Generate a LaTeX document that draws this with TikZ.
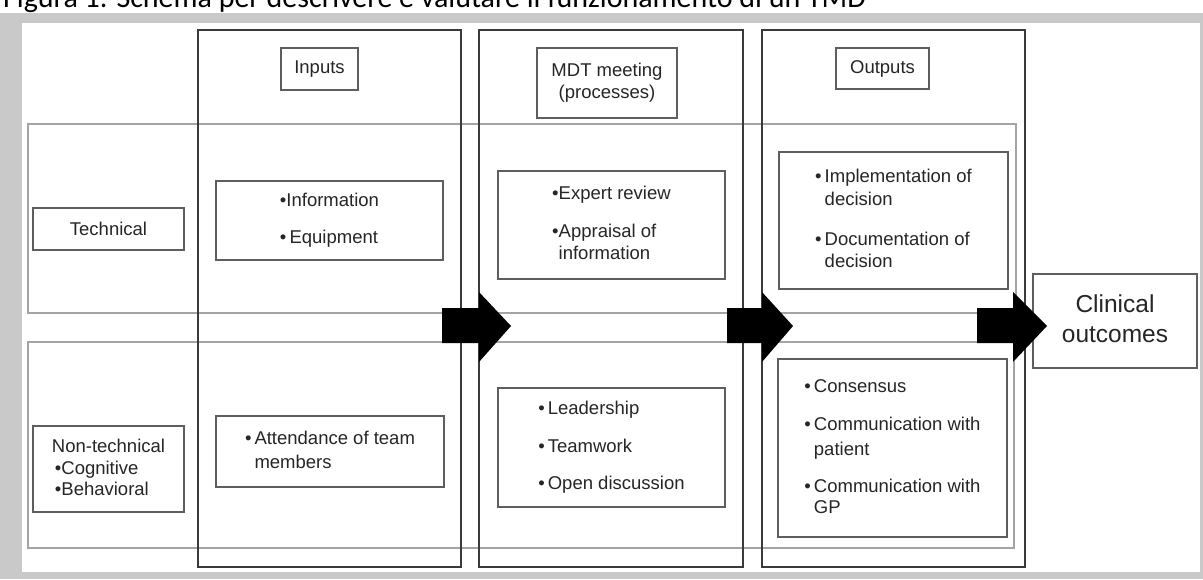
\documentclass[tikz,border=0pt]{standalone}
\usepackage{fontspec}
\setmainfont{Liberation Sans}
\newfontfamily\captionfont{Carlito}
\definecolor{bggray}{HTML}{C9C9C9}
\definecolor{colline}{HTML}{3A3A3A}
\definecolor{boxline}{HTML}{5E5E5E}
\definecolor{bandline}{HTML}{A4A4A4}
\definecolor{txtcol}{HTML}{262626}
\tikzset{
  colbox/.style={draw=colline, line width=2.6pt},
  rowband/.style={draw=bandline, line width=1.6pt},
  itembox/.style={draw=boxline, line width=1.8pt, inner sep=0pt, align=center,
     text=txtcol, font=\fontsize{18.5}{23}\selectfont},
  blockarrow/.style={fill=black},
}
\begin{document}
\begin{tikzpicture}[x=1pt,y=-1pt]
\useasboundingbox (0,0) rectangle (1203,579);
\fill[white] (0,0) rectangle (1203,13);
\fill[bggray] (0,13) rectangle (1203,579);
\fill[white] (22,23) rectangle (1200,572);
\node[anchor=base west, inner sep=0pt, font=\captionfont\fontsize{30}{36}\selectfont] (cap) at (3,7)
  {Figura 1. Schema per descrivere e valutare il funzionamento di un TMD};

% row bands
\draw[rowband] (28,124) rectangle (1016,313);
\draw[rowband] (28,342) rectangle (1014,548);

% columns
\draw[colbox] (198,30) rectangle (461,567);
\draw[colbox] (479,30) rectangle (743,567);
\draw[colbox] (762,30) rectangle (1025,567);

% headers
\node[itembox, minimum width=77pt, minimum height=42pt] (hin) at (319.5,69) {Inputs};
\node[itembox, minimum width=140pt, minimum height=70pt] (hmdt) at (607,83)
  {\begin{tabular}{@{}c@{}}MDT meeting\\[-1pt](processes)\end{tabular}};
\node[itembox, minimum width=93pt, minimum height=41pt] (hout) at (882.5,68.5) {Outputs};

% row labels
\node[itembox, minimum width=151pt, minimum height=42pt] (tech) at (108.5,229) {Technical};
\node[itembox, minimum width=151pt, minimum height=86pt] (nontech) at (108.5,469)
  {\begin{tabular}{@{}l@{}}Non-technical\\[-1pt]\hspace{3pt}\textbullet Cognitive\\[-2pt]\hspace{3pt}\textbullet Behavioral\end{tabular}};

% inputs
\node[itembox, minimum width=227pt, minimum height=79pt] (info) at (329.5,220.5)
  {\begin{tabular}{@{}l@{}l@{}}\textbullet&Information\\[14pt]\textbullet&\,Equipment\end{tabular}};
\node[itembox, minimum width=228pt, minimum height=71pt] (attend) at (330,451.5)
  {\begin{tabular}{@{}l@{\hspace{3pt}}l@{}}\textbullet&Attendance of team\\[1pt]&members\end{tabular}};

% processes
\node[itembox, minimum width=227pt, minimum height=108pt] (expert) at (611.5,225)
  {\begin{tabular}{@{}l@{}l@{}}\textbullet&Expert review\\[15pt]\textbullet&Appraisal of\\[-1pt]&information\end{tabular}};
\node[itembox, minimum width=227pt, minimum height=119pt] (lead) at (611.5,447.5)
  {\begin{tabular}{@{}l@{\hspace{3pt}}l@{}}\textbullet&Leadership\\[15pt]\textbullet&Teamwork\\[14pt]\textbullet&Open discussion\end{tabular}};

% outputs
\node[itembox, minimum width=229pt, minimum height=137pt] (impl) at (893.5,220.5)
  {\begin{tabular}{@{}l@{\hspace{3pt}}l@{}}\textbullet&Implementation of\\&decision\\[17pt]\textbullet&Documentation of\\[-1pt]&decision\end{tabular}};
\node[itembox, minimum width=229pt, minimum height=178pt] (cons) at (892.5,448)
  {\begin{tabular}{@{}l@{\hspace{3pt}}l@{}}\textbullet&Consensus\\[15pt]\textbullet&Communication with\\[2pt]&patient\\[14pt]\textbullet&Communication with\\[-2pt]&GP\end{tabular}};

% clinical outcomes
\node[itembox, minimum width=164pt, minimum height=94pt, font=\fontsize{24.5}{30}\selectfont] (clin) at (1115,321)
  {\begin{tabular}{@{}c@{}}Clinical\\outcomes\end{tabular}};

% block arrows
\fill[blockarrow] (442,308) -- (479,308) -- (479,292) -- (511,326) -- (479,362) -- (479,343) -- (442,343) -- cycle;
\fill[blockarrow] (727,308) -- (762,308) -- (762,292) -- (793,326) -- (762,362) -- (762,343) -- (727,343) -- cycle;
\fill[blockarrow] (977,308) -- (1013,308) -- (1013,292) -- (1047,326) -- (1013,362) -- (1013,343) -- (977,343) -- cycle;
\end{tikzpicture}
\end{document}
